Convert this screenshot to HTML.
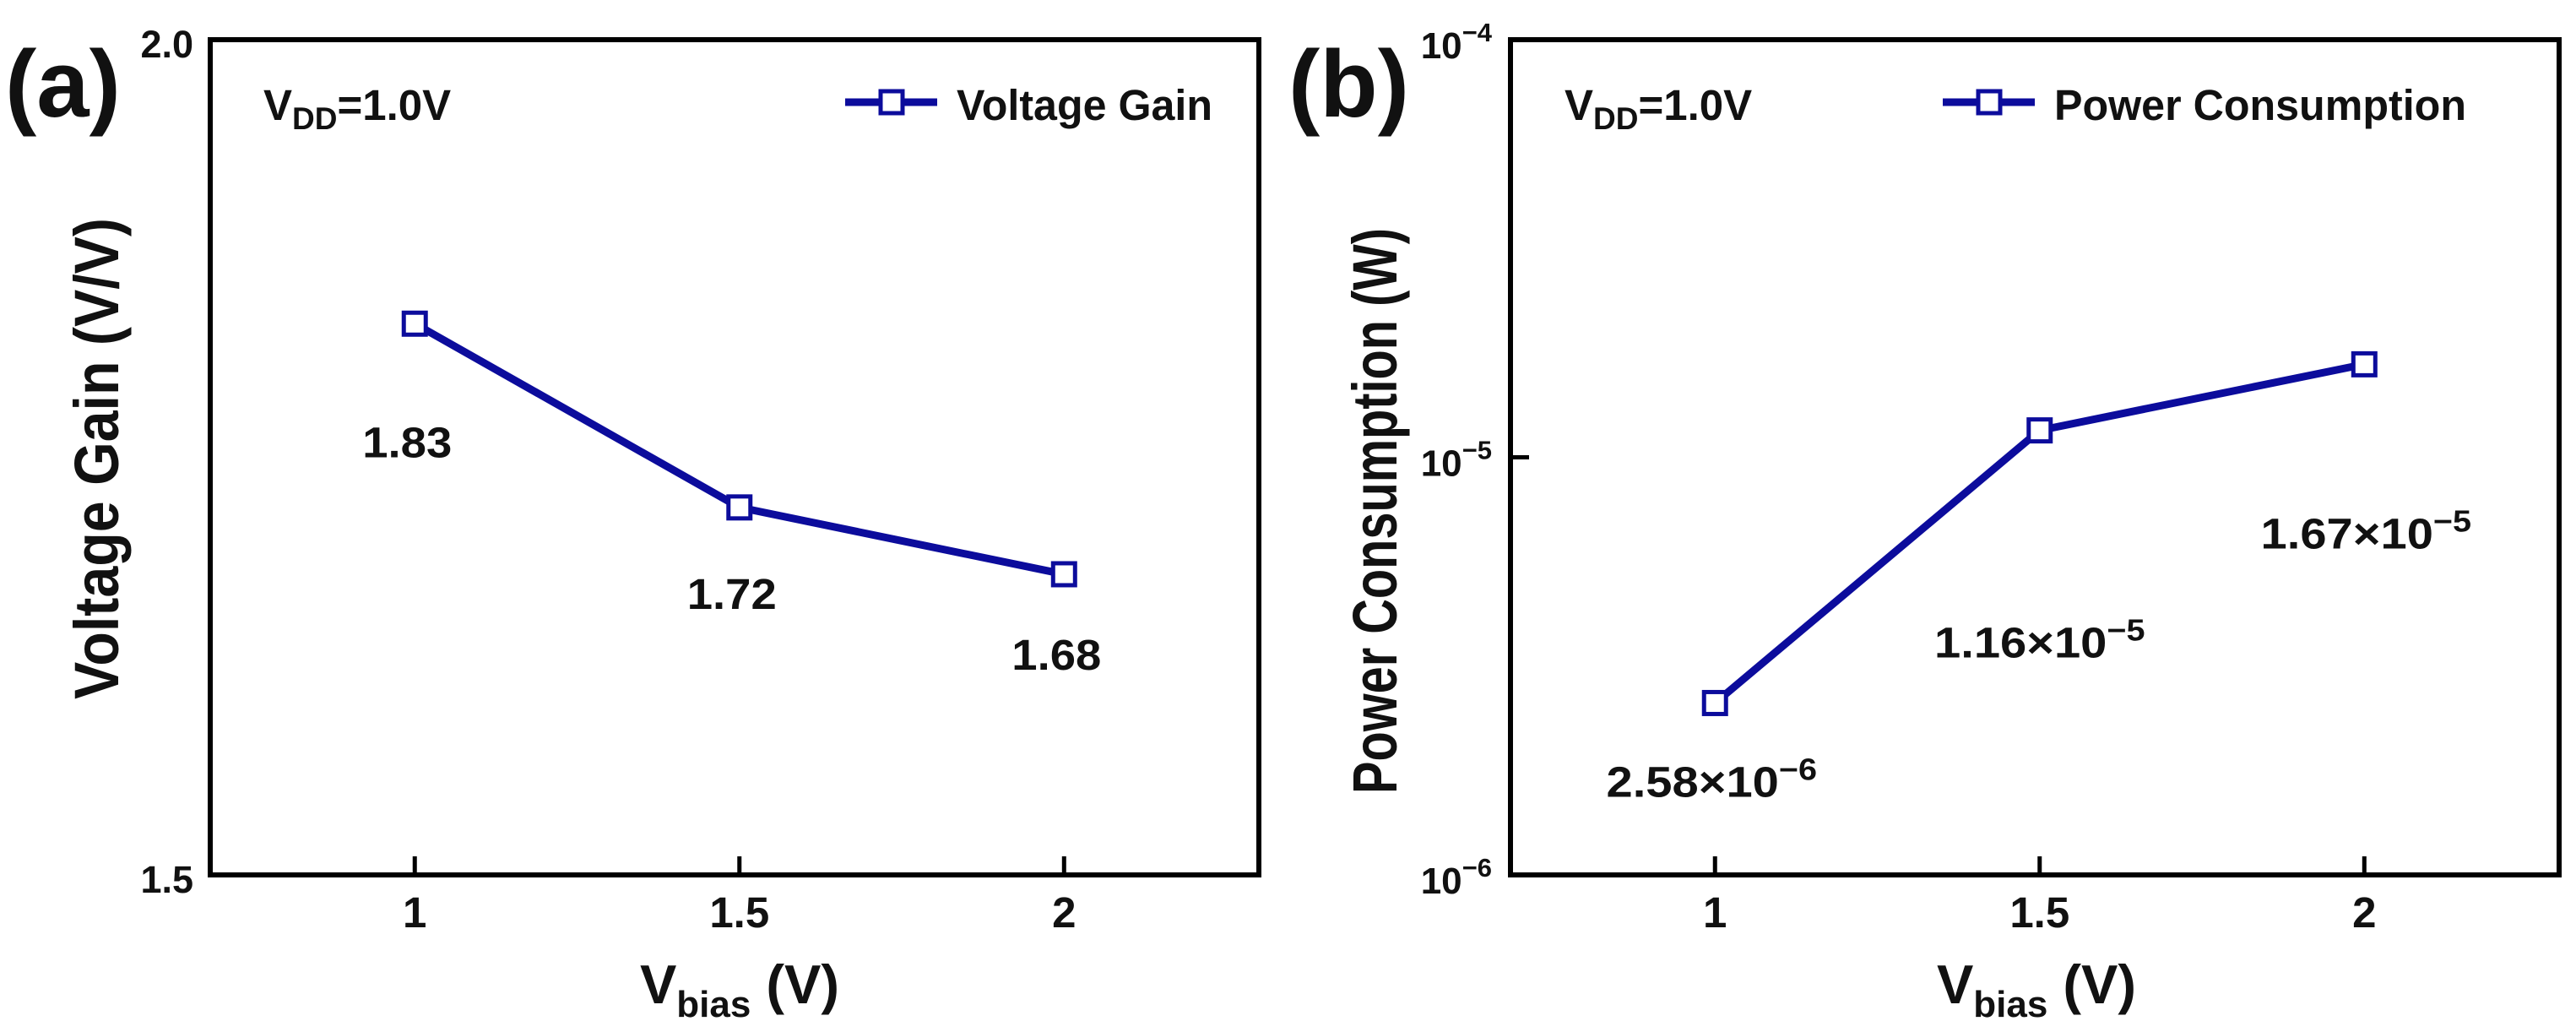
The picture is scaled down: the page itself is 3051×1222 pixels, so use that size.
<!DOCTYPE html>
<html><head><meta charset="utf-8"><style>
html,body{margin:0;padding:0;background:#fff;}
svg{display:block;}
text{font-family:"Liberation Sans",Arial,sans-serif;font-weight:bold;fill:#111;}
</style></head><body>
<svg id="fig" width="3051" height="1222" viewBox="0 0 3051 1222" xmlns="http://www.w3.org/2000/svg"></svg>
<script>
const categories = [1, 1.5, 2];
const xTickLabels = ["1", "1.5", "2"];
const gainValues = [1.83, 1.72, 1.68];
const gainLabels = ["1.83", "1.72", "1.68"];
const powerValues = [2.58e-6, 1.16e-5, 1.67e-5];
const powerMant = ["2.58", "1.16", "1.67"];
const powerExp = ["−6", "−5", "−5"];
const gainTicks = [1.5, 2.0];
const gainTickLabels = ["1.5", "2.0"];
const powerTickExps = [-6, -5, -4];

const NS = "http://www.w3.org/2000/svg";
const svg = document.getElementById('fig');
const BLUE = "#0c0c9c";
const T = 47, B = 1036;
function el(tag, attrs, parent) {
  const e = document.createElementNS(NS, tag);
  for (const k in attrs) e.setAttribute(k, attrs[k]);
  (parent || svg).appendChild(e);
  return e;
}
function txt(x, y, s, size, anchor, parent, len) {
  const t = el('text', {x: x, y: y, 'font-size': size, 'text-anchor': anchor || 'start'}, parent);
  if (len) { t.setAttribute('textLength', len); t.setAttribute('lengthAdjust', 'spacingAndGlyphs'); }
  t.textContent = s;
  return t;
}
function txtS(x, y, size, anchor, sx, parent) {
  return el('text', {x: 0, y: 0, 'font-size': size, 'text-anchor': anchor, transform: 'translate(' + x + ',' + y + ') scale(' + sx + ',1)'}, parent);
}
function tsp(t, s, size, dy) {
  const sp = document.createElementNS(NS, 'tspan');
  sp.setAttribute('font-size', size);
  if (dy) sp.setAttribute('dy', dy);
  sp.textContent = s;
  t.appendChild(sp);
  return sp;
}

function panel(cfg) {
  const g = el('g', {});
  
  
  const L = cfg.L, R = cfg.R;
  const xMin = 0.685, xMax = 2.30;
  const xs = v => L + (v - xMin) / (xMax - xMin) * (R - L);
  const ys = cfg.ys;

  categories.forEach((c, i) => {
    const tk = el('line', {x1: xs(c), x2: xs(c), y1: B, y2: B - 22, stroke: '#000', 'stroke-width': 5}, g);
    
    
    const lb = txt(xs(c), 1098, xTickLabels[i], 51, 'middle', g);
    
    
  });
  cfg.yTicks(g, ys, L);

  const fr = el('rect', {x: L, y: T, width: R - L, height: B - T, fill: 'none', stroke: '#000', 'stroke-width': 6}, g);
  
  

  const pts = categories.map((c, i) => xs(c) + ',' + ys(cfg.values[i])).join(' ');
  const pl = el('polyline', {points: pts, fill: 'none', stroke: BLUE, 'stroke-width': 9, 'stroke-linejoin': 'round'}, g);
  
  
  categories.forEach((c, i) => {
    const m = el('rect', {x: xs(c) - 13, y: ys(cfg.values[i]) - 13, width: 26, height: 26, fill: '#fff', stroke: BLUE, 'stroke-width': 5}, g);
    
    
  });
  cfg.labels(g, xs, ys);

  const pt = txt(cfg.letterX, 138, cfg.letter, 112, 'start', g);
  
  

  const vd = txtS(cfg.vddX, 142, 51, 'start', 1.0, g);
  tsp(vd, 'V', 51);
  tsp(vd, 'DD', 37, 11);
  tsp(vd, '=1.0V', 51, -11);
  
  

  const lg = el('g', {}, g);
  
  
  el('line', {x1: cfg.legX, x2: cfg.legX + 109, y1: 121, y2: 121, stroke: BLUE, 'stroke-width': 9}, lg);
  el('rect', {x: cfg.legX + 42, y: 108, width: 26, height: 26, fill: '#fff', stroke: BLUE, 'stroke-width': 5}, lg);
  txt(cfg.legX + 132, 142, cfg.legend, 51, 'start', lg, cfg.legLen);

  const yt = el('text', {x: 0, y: 0, 'font-size': 74, 'text-anchor': 'middle', dy: 27,
    textLength: cfg.yTitleLen, lengthAdjust: 'spacingAndGlyphs',
    transform: 'translate(' + cfg.yTitleX + ',' + cfg.yTitleY + ') rotate(-90)'}, g);
  yt.textContent = cfg.yTitle;
  
  

  const xt = txtS(cfg.xTitleX, 1188, 65, 'middle', 1.0, g);
  tsp(xt, 'V', 65);
  tsp(xt, 'bias', 44, 16);
  tsp(xt, ' (V)', 65, -16);
  
  
}

panel({
  name: 'panel-a-voltage-gain', L: 249, R: 1491, letter: '(a)', letterX: 6,
  values: gainValues, vddX: 312, legX: 1001, legend: 'Voltage Gain', legLen: 303,
  yTitle: 'Voltage Gain (V/V)', yTitleLen: 570, yTitleX: 113, yTitleY: 543, xTitleX: 876,
  ys: v => B - (v - 1.5) / 0.5 * (B - T),
  yTicks: (g, ys, L) => {
    gainTicks.forEach((v, i) => {
      const t = txt(L - 20, ys(v) + 21, gainTickLabels[i], 45, 'end', g);
      
      
    });
  },
  labels: (g, xs, ys) => {
    const dys = [158, 120, 113];
    categories.forEach((c, i) => {
      const t = txt(xs(c) - 9, ys(gainValues[i]) + dys[i], gainLabels[i], 51, 'middle', g, 106);
      
      
    });
  }
});

panel({
  name: 'panel-b-power-consumption', L: 1789, R: 3031, letter: '(b)', letterX: 1526,
  values: powerValues, vddX: 1853, legX: 2301, legend: 'Power Consumption', legLen: 488,
  yTitle: 'Power Consumption (W)', yTitleLen: 670, yTitleX: 1627, yTitleY: 605, xTitleX: 2412,
  ys: v => B - (Math.log10(v) + 6) / 2 * (B - T),
  yTicks: (g, ys, L) => {
    powerTickExps.forEach(e => {
      const y = ys(Math.pow(10, e));
      if (e === -5) {
        const tk = el('line', {x1: L, x2: L + 22, y1: y, y2: y, stroke: '#000', 'stroke-width': 5}, g);
        
        
      }
      const t = txtS(L - 22, y + 22, 44, 'end', 1.0, g);
      tsp(t, '10', 44);
      tsp(t, '−' + Math.abs(e), 31, -20);
      
      
    });
  },
  labels: (g, xs, ys) => {
    const dys = [111, 269, 218];
    const dxs = [-4, 0, 2];
    categories.forEach((c, i) => {
      const t = txtS(xs(c) + dxs[i], ys(powerValues[i]) + dys[i], 51, 'middle', 1.1, g);
      tsp(t, powerMant[i] + '×10', 51);
      tsp(t, powerExp[i], 36, -20);
      
      
    });
  }
});
</script>
</body></html>
